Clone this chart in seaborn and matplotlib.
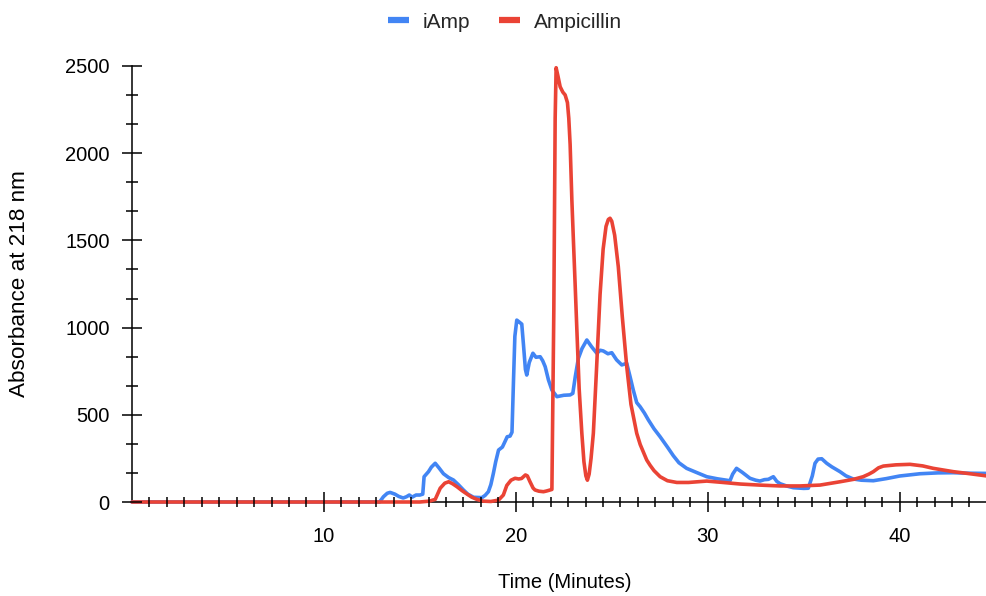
import numpy as np
import pandas as pd
import matplotlib
matplotlib.use("Agg")
import matplotlib.pyplot as plt
from matplotlib.ticker import FixedLocator
import seaborn as sns

# Chromatogram traces: retention time (minutes) and absorbance at 218 nm
iamp_time = [0, 12.9, 13.1, 13.3, 13.45, 13.7, 13.9, 14.13, 14.3, 14.45, 14.6, 14.8, 15.0,
             15.15, 15.22, 15.45, 15.6, 15.8, 16.0, 16.23, 16.5, 16.75, 17.0, 17.27, 17.5,
             17.8, 18.23, 18.4, 18.57, 18.7, 18.83, 18.95, 19.1, 19.3, 19.45, 19.55, 19.7,
             19.8, 19.88, 19.95, 20.05, 20.2, 20.31, 20.4, 20.5, 20.57, 20.7, 20.89, 21.05,
             21.27, 21.4, 21.53, 21.7, 21.88, 22.14, 22.5, 22.83, 22.97, 23.1, 23.26, 23.45,
             23.7, 23.95, 24.22, 24.4, 24.56, 24.8, 25.0, 25.25, 25.52, 25.78, 25.95, 26.12,
             26.3, 26.48, 26.7, 26.91, 27.2, 27.52, 27.9, 28.21, 28.5, 28.9, 29.4, 29.95,
             30.5, 31.16, 31.3, 31.5, 31.8, 32.2, 32.5, 32.72, 32.95, 33.16, 33.42, 33.6,
             33.77, 34.1, 34.46, 35.0, 35.24, 35.45, 35.59, 35.75, 35.94, 36.2, 36.46, 36.89,
             37.2, 37.58, 38.0, 38.63, 39.3, 40.0, 41.06, 42.0, 42.79, 43.6, 44.5]
iamp_abs = [0, 0, 30, 50, 55, 45, 32, 23, 30, 40, 28, 40, 40,
            45, 145, 174, 200, 222, 195, 162, 140, 126, 100, 69, 45,
            27, 25, 38, 59, 100, 164, 230, 298, 315, 350, 374, 378,
            400, 700, 950, 1043, 1030, 1020, 900, 760, 728, 800, 853, 830,
            833, 810, 776, 700, 642, 604, 612, 614, 623, 720, 824, 880,
            929, 890, 853, 870, 866, 850, 856, 815, 786, 795, 720, 642,
            570, 546, 510, 470, 420, 374, 315, 265, 225, 193, 170, 145,
            133, 122, 160, 193, 170, 136, 125, 120, 128, 130, 145, 118,
            105, 92, 82, 78, 79, 150, 222, 246, 248, 222, 202, 174,
            150, 132, 125, 122, 134, 149, 162, 167, 168, 165, 164]

amp_time = [0, 15.0, 15.5, 15.8, 16.06, 16.3, 16.5, 16.7, 16.93, 17.2, 17.45, 17.7, 17.97,
            18.3, 18.7, 19.1, 19.35, 19.53, 19.75, 19.96, 20.15, 20.3, 20.5, 20.6, 20.74,
            20.9, 21.0, 21.2, 21.44, 21.6, 21.79, 21.88, 21.98, 22.05, 22.1, 22.2, 22.31,
            22.45, 22.57, 22.69, 22.76, 22.83, 22.92, 23.0, 23.09, 23.18, 23.3, 23.44, 23.55,
            23.65, 23.73, 23.82, 23.92, 24.04, 24.2, 24.39, 24.55, 24.7, 24.82, 24.91, 25.0,
            25.15, 25.34, 25.55, 25.78, 26.0, 26.3, 26.48, 26.82, 27.0, 27.2, 27.52, 27.9,
            28.39, 29.0, 29.95, 30.8, 31.7, 32.7, 33.77, 34.8, 35.85, 36.89, 37.6, 38.1,
            38.4, 38.63, 38.9, 39.15, 39.8, 40.54, 41.2, 41.75, 42.79, 43.6, 44.5]
amp_abs = [0, 0, 5, 15, 79, 108, 116, 105, 88, 65, 46, 28, 15,
           5, 3, 11, 40, 95, 125, 136, 132, 135, 155, 150, 116,
           80, 69, 62, 59, 63, 69, 72, 1100, 2200, 2490, 2440, 2381,
           2350, 2334, 2290, 2200, 2050, 1732, 1502, 1250, 990, 650, 394, 230,
           150, 125, 160, 250, 394, 750, 1190, 1450, 1580, 1620, 1627, 1610,
           1530, 1349, 1060, 776, 560, 394, 330, 241, 210, 180, 145, 122,
           112, 112, 120, 112, 103, 97, 92, 92, 97, 116, 130, 145,
           160, 174, 196, 206, 213, 216, 207, 193, 174, 163, 150]

series_names = ["iAmp", "Ampicillin"]
series_colors = ["#4285F4", "#EA4335"]

x_major = [10, 20, 30, 40]
y_major = [0, 500, 1000, 1500, 2000, 2500]

df = pd.concat([
    pd.DataFrame({"time": iamp_time, "absorbance": iamp_abs, "sample": "iAmp"}),
    pd.DataFrame({"time": amp_time, "absorbance": amp_abs, "sample": "Ampicillin"}),
], ignore_index=True)

sns.set_theme(style="white")
plt.rcParams["font.family"] = ["Liberation Sans", "DejaVu Sans"]

W, H = 986, 596
fig = plt.figure(figsize=(W / 100, H / 100), dpi=100)
ax = fig.add_axes([132 / W, (H - 502) / H, (W - 132) / W, (502 - 66) / H])

sns.lineplot(data=df, x="time", y="absorbance", hue="sample",
             hue_order=series_names, palette=series_colors,
             linewidth=2.6, sort=False, estimator=None, ax=ax, legend=True)
for ln in ax.lines:
    ln.set_clip_on(False)
    ln.set_zorder(2.2)
    ln.set_solid_joinstyle("round")

ax.set_xlim(0, 44.5)
ax.set_ylim(0, 2500)

for side in ("top", "right"):
    ax.spines[side].set_visible(False)
for side in ("left", "bottom"):
    ax.spines[side].set_color("black")
    ax.spines[side].set_linewidth(1.1)
    ax.spines[side].set_zorder(2.0)

ax.xaxis.set_major_locator(FixedLocator(x_major))
ax.yaxis.set_major_locator(FixedLocator(y_major))
x_minor = [k * 10 / 11 for k in range(1, 49) if k % 11 != 0]
y_minor = [k * 500 / 3 for k in range(1, 15) if k % 3 != 0]
ax.xaxis.set_minor_locator(FixedLocator(x_minor))
ax.yaxis.set_minor_locator(FixedLocator(y_minor))

ax.tick_params(axis="both", which="both", direction="inout", color="black",
               width=1.1, labelsize=14.5, labelcolor="black",
               bottom=True, left=True, top=False, right=False)
ax.tick_params(axis="x", which="major", length=14.4, pad=10.5)
ax.tick_params(axis="x", which="minor", length=6.8)
ax.tick_params(axis="y", which="major", length=15, pad=8.5)
ax.tick_params(axis="y", which="minor", length=8)
ax.xaxis.set_zorder(2.5)
ax.yaxis.set_zorder(2.5)

ax.set_xlabel("Time (Minutes)", fontsize=14.5, color="black", va="center")
ax.xaxis.set_label_coords((565 - 132) / (W - 132), (502 - 583) / (502 - 66))
ax.set_ylabel("Absorbance at 218 nm", fontsize=16.2, color="black", va="center")
ax.yaxis.set_label_coords((20 - 132) / (W - 132), 0.5)

handles, labels = ax.get_legend_handles_labels()
leg = ax.legend(handles, labels, loc="center", bbox_to_anchor=(505 / W, 1 - 22 / H),
                bbox_transform=fig.transFigure, ncol=2, frameon=False,
                fontsize=15, handlelength=1.0, handletextpad=0.65,
                columnspacing=1.4)
for ln in leg.get_lines():
    ln.set_linewidth(4.5)
    ln.set_solid_capstyle("butt")

fig.savefig("out.png", dpi=100, facecolor="white")
